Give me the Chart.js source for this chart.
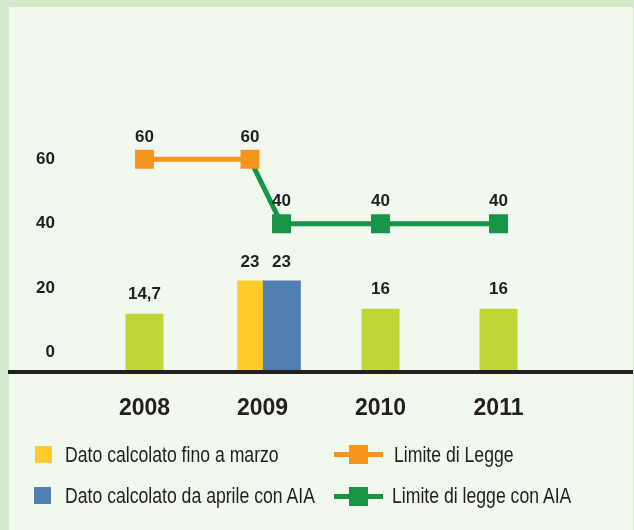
<!DOCTYPE html>
<html><head><meta charset="utf-8">
<script src="https://cdn.jsdelivr.net/npm/chart.js@4.4.1/dist/chart.umd.min.js"></script>
<style>
html,body{margin:0;padding:0;width:634px;height:530px;overflow:hidden;background:#d4eacb;}
#panel{position:absolute;left:9px;top:7px;width:624px;height:523px;background:#f1f8ee;}
#wrap{position:absolute;left:0;top:0;width:634px;height:530px;}
.lg{position:absolute;font-family:"Liberation Sans",Arial,sans-serif;font-size:21.5px;line-height:21.5px;color:#231f20;white-space:nowrap;transform:scaleX(0.82);transform-origin:0 50%;}
.sw{position:absolute;width:17px;height:17px;}
.ln{position:absolute;width:49px;height:5px;}
.mk{position:absolute;width:19px;height:19px;}
</style></head>
<body>
<div id="panel"></div>
<div id="wrap"><canvas id="c" width="634" height="530"></canvas></div>
<div class="sw" style="left:35px;top:446px;background:#ffcb29"></div>
<div class="lg" style="left:65px;top:445px">Dato calcolato fino a marzo</div>
<div class="sw" style="left:34px;top:487px;background:#507fb2"></div>
<div class="lg" style="left:65px;top:486px">Dato calcolato da aprile con AIA</div>
<div class="ln" style="left:334px;top:452px;background:#f7941e"></div>
<div class="mk" style="left:349px;top:445px;background:#f7941e"></div>
<div class="lg" style="left:394px;top:445px">Limite di Legge</div>
<div class="ln" style="left:334px;top:494px;background:#169448"></div>
<div class="mk" style="left:349px;top:487px;background:#169448"></div>
<div class="lg" style="left:392px;top:486px">Limite di legge con AIA</div>
<script>
const years = ['2008', '2009', '2010', '2011'];
const datoAnnuale = [14.7, null, 16, 16];
const datoFinoMarzo = [null, 23, null, null];
const datoDaAprile = [null, 23, null, null];
const limiteLegge = [60, 60, null, null];
const limiteLeggeAIA = [null, 40, 40, 40];
const yTicks = [0, 20, 40, 60];

const INK = '#231f20';
const SPLIT = [-0.106, 0.161]; // 2009 sub-positions (before/after April) within the category

function fmt(v){ return String(v).replace('.', ','); }

const orangePts = [];
limiteLegge.forEach((v,i)=>{ if(v!==null) orangePts.push({x: i + (i===1 ? SPLIT[0] : 0), y: v, lbl: true}); });
const greenPts = [];
limiteLeggeAIA.forEach((v,i)=>{
  if(v===null) return;
  if(i===1){
    greenPts.push({x: i + SPLIT[0], y: limiteLegge[1], lbl: false});
    greenPts.push({x: i + SPLIT[1], y: v, lbl: true});
  } else greenPts.push({x: i, y: v, lbl: true});
});

const labelPlugin = {
  id: 'valueLabels',
  afterDatasetsDraw(chart){
    const ctx = chart.ctx;
    ctx.save();
    ctx.font = 'bold 17px "Liberation Sans", Arial, sans-serif';
    ctx.fillStyle = INK;
    ctx.textAlign = 'center';
    ctx.textBaseline = 'middle';
    chart.data.datasets.forEach((ds, di)=>{
      const meta = chart.getDatasetMeta(di);
      meta.data.forEach((el, j)=>{
        const raw = ds.data[j];
        if(raw === null || raw === undefined) return;
        if(typeof raw === 'object'){
          if(!raw.lbl) return;
          ctx.fillText(fmt(raw.y), el.x, el.y - ds.labelGap);
        } else {
          ctx.fillText(fmt(raw), el.x, el.y - ds.labelGap);
        }
      });
    });
    ctx.restore();
  }
};
const baseLine = {
  id: 'baseLine',
  afterDatasetsDraw(chart){
    const ctx = chart.ctx, y = chart.scales.y2.getPixelForValue(0);
    ctx.save();
    ctx.strokeStyle = INK; ctx.lineWidth = 4;
    ctx.beginPath(); ctx.moveTo(8, y); ctx.lineTo(633, y); ctx.stroke();
    ctx.restore();
  }
};

new Chart(document.getElementById('c'), {
  type: 'bar',
  data: {
    labels: years,
    datasets: [
      {type:'line', label:'Limite di Legge', data: orangePts, xAxisID:'xl', yAxisID:'y', grouped:false,
       borderColor:'#f7941e', backgroundColor:'#f7941e', borderWidth:5, pointStyle:'rect',
       pointRadius:13.4, pointHoverRadius:13.4, pointBorderWidth:0, pointBackgroundColor:'#f7941e',
       order:0, labelGap:22, tension:0},
      {type:'line', label:'Limite di legge con AIA', data: greenPts, xAxisID:'xl', yAxisID:'y', grouped:false,
       borderColor:'#169448', backgroundColor:'#169448', borderWidth:5, pointStyle:'rect',
       pointRadius: greenPts.map(p=>p.lbl?13.4:0), pointHoverRadius: greenPts.map(p=>p.lbl?13.4:0),
       pointBorderWidth:0, pointBackgroundColor:'#169448', order:1, labelGap:22, tension:0},
      {label:'Dato annuale', data: datoAnnuale, backgroundColor:'#c0d635', maxBarThickness:38, grouped:false,
       xAxisID:'x', yAxisID:'y2', order:2, labelGap:19},
      {label:'Dato calcolato fino a marzo', data: datoFinoMarzo, backgroundColor:'#ffcb29', barThickness:25,
       xAxisID:'x', yAxisID:'y2', order:3, labelGap:19, skipNull:true},
      {label:'Dato calcolato da aprile con AIA', data: datoDaAprile, backgroundColor:'#507fb2', barThickness:38,
       xAxisID:'x', yAxisID:'y2', order:4, labelGap:19, skipNull:true}
    ]
  },
  options: {
    responsive:false, animation:false,
    layout:{padding:{left:5.6, right:76.5, top:100, bottom:85}},
    plugins:{legend:{display:false}, tooltip:{enabled:false}},
    scales:{
      x:{type:'category', offset:true, position:'bottom',
         grid:{display:false, drawTicks:false}, border:{display:false},
         ticks:{font:{family:'"Liberation Sans", Arial, sans-serif', size:23, weight:'bold'}, color:INK, padding:22.7}},
      xl:{type:'linear', display:false, offset:false, min:-0.5, max:3.5},
      y:{type:'linear', position:'left', min:-6, max:78.4,
         grid:{display:false, drawTicks:false}, border:{display:false},
         afterBuildTicks(s){ s.ticks = yTicks.map(v=>({value:v})); },
         ticks:{font:{family:'"Liberation Sans", Arial, sans-serif', size:17, weight:'bold'}, color:INK, padding:30.5}},
      y2:{type:'linear', display:false, min:0, max:68.7}
    }
  },
  plugins:[labelPlugin, baseLine]
});
</script>
</body></html>
